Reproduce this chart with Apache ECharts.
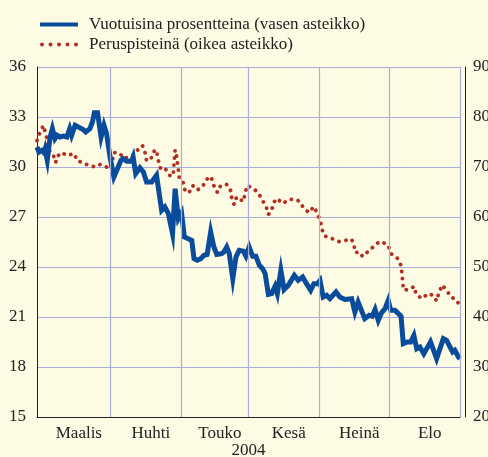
<!DOCTYPE html>
<html>
<head>
<meta charset="utf-8">
<script src="https://cdn.jsdelivr.net/npm/echarts@6/dist/echarts.min.js"></script>
<style>
  html, body { margin: 0; padding: 0; background: #fdfbe3; }
  #chart { width: 488px; height: 457px; }
</style>
</head>
<body>
<div id="chart"></div>
<script>
// months on the x axis, counted in business days
const monthNames = ['Maalis', 'Huhti', 'Touko', 'Kesä', 'Heinä', 'Elo'];
const monthDays = [23, 22, 21, 22, 22, 22];

// left scale ticks, right scale ticks
const leftTicks = [15, 36, 3];
const rightTicks = [20, 90, 10];

// Vuotuisina prosentteina (vasen asteikko): day index, value
const blueDay = [0, 0.6, 1.5, 2.2, 2.5, 3.2, 4.1, 4.8, 5.6, 6.3, 7.2, 8.2, 9.3, 10.2, 10.8, 11.9, 12.9, 14.4, 15.2, 16.5,
  17.3, 17.9, 18.9, 20.0, 20.9, 21.7, 22.8, 24.0, 24.9, 26.2, 26.9, 28.0, 29.5, 30.0, 30.8, 32.1, 33.2, 34.2, 35.8, 37.3,
  38.9, 39.9, 41.0, 42.3, 43.1, 44.1, 45.1, 46.0, 47.2, 48.3, 49.0, 50.0, 51.1, 52.1, 53.1, 54.2, 55.2, 56.1, 57.6, 58.3,
  59.2, 60.0, 61.1, 62.1, 63.1, 64.4, 65.2, 66.2, 67.3, 68.3, 69.4, 70.4, 71.2, 72.2, 73.2, 74.3, 75.0, 76.1, 77.1, 78.4,
  80.3, 81.5, 82.9, 84.1, 85.4, 86.4, 87.5, 88.3, 89.3, 90.4, 91.4, 93.3, 94.5, 96.1, 98.2, 99.2, 100.2, 102.3, 103.7, 104.6,
  105.5, 106.5, 107.5, 108.6, 109.6, 110.4, 111.7, 113.6, 114.3, 115.5, 116.6, 117.6, 118.5, 119.5, 120.7, 122.8, 124.7, 126.8, 127.8, 129.7,
  130.4, 131.5, 132];
const blueVal = [31.2, 30.9, 31.0, 30.85, 31.05, 30.4, 31.8, 32.3, 31.7, 31.9, 31.8, 31.85, 31.8, 32.3, 31.9, 32.5, 32.4, 32.25, 32.1, 32.3,
  32.7, 33.25, 33.25, 31.8, 32.5, 32.0, 30.6, 29.4, 29.8, 30.4, 30.5, 30.35, 30.35, 30.6, 29.6, 29.95, 29.7, 29.1, 29.1, 29.5,
  27.4, 27.6, 27.2, 26.0, 28.7, 26.9, 27.25, 25.8, 25.7, 25.6, 24.5, 24.4, 24.5, 24.7, 24.75, 26.1, 25.2, 24.75, 24.8, 24.9,
  25.2, 24.8, 23.3, 24.6, 25.0, 24.95, 24.65, 25.2, 24.65, 24.65, 24.1, 23.9, 23.6, 22.35, 22.4, 22.85, 22.4, 23.8, 22.65, 22.9,
  23.5, 23.2, 23.4, 23.0, 22.6, 23.0, 23.0, 23.2, 22.2, 22.3, 22.1, 22.5, 22.2, 22.05, 22.1, 21.3, 21.9, 20.9, 21.1, 21.05,
  21.45, 20.8, 21.25, 21.5, 22.0, 21.4, 21.4, 21.05, 19.4, 19.5, 19.5, 19.9, 19.1, 19.2, 18.8, 19.5, 18.5, 19.7, 19.6, 18.9,
  19.0, 18.6, 18.5];

// Peruspisteinä (oikea asteikko): day index, value
const redDay = [0, 0.9, 2.0, 2.7, 3.3, 3.7, 5.1, 5.8, 6.5, 7.5, 9.6, 11.5, 12.7, 14.3, 15.5, 16.5, 18.1, 19.7, 21.4, 22.8,
  23.5, 24.0, 25.7, 27.2, 29.7, 31.4, 32.9, 33.7, 34.2, 35.8, 36.8, 37.5, 38.0, 38.7, 40.2, 41.7, 42.5, 43.1, 43.5, 44.4,
  45.5, 46.1, 47.4, 48.6, 50.0, 51.7, 52.9, 54.3, 55.0, 56.3, 57.3, 59.2, 60.4, 60.8, 61.5, 62.3, 64.4, 64.9, 65.6, 67.1,
  68.9, 70.2, 71.5, 72.2, 73.2, 73.9, 74.8, 76.8, 78.2, 80.0, 81.8, 83.3, 84.9, 86.4, 87.6, 88.5, 89.0, 89.8, 92.0, 94.3,
  96.1, 98.1, 98.9, 99.3, 100.6, 101.6, 103.3, 104.9, 106.0, 107.5, 109.6, 110.4, 112.4, 113.6, 113.9, 114.1, 114.4, 116.1, 117.7, 118.3,
  120.1, 122.1, 123.7, 124.7, 125.4, 126.5, 127.8, 129.4, 130.8, 132];
const redVal = [75.3, 76.9, 78.3, 76.7, 75.1, 73.4, 72.4, 70.9, 72.2, 72.9, 72.3, 72.7, 71.2, 70.9, 70.5, 70.3, 70.0, 70.5, 70.1, 69.7,
  71.2, 72.9, 72.8, 71.7, 72.2, 73.4, 74.3, 72.9, 71.2, 71.9, 73.5, 72.6, 70.9, 69.4, 69.5, 68.1, 68.4, 73.4, 72.5, 67.9,
  67.2, 65.5, 64.8, 66.3, 65.4, 66.1, 67.5, 68.1, 66.5, 64.9, 66.3, 66.5, 65.3, 63.7, 62.5, 64.0, 63.1, 64.7, 66.3, 65.8,
  65.0, 63.5, 62.1, 60.5, 61.3, 62.9, 63.7, 62.7, 63.4, 63.6, 63.2, 61.7, 60.9, 62.1, 60.5, 59.1, 57.4, 56.2, 55.7, 55.1,
  55.3, 55.6, 54.5, 52.9, 53.0, 52.1, 53.1, 54.0, 54.7, 55.1, 54.3, 52.7, 51.8, 50.3, 48.7, 47.0, 45.4, 45.5, 46.1, 44.5,
  43.7, 44.7, 44.3, 43.2, 44.9, 46.4, 45.3, 43.9, 43.5, 42.2];

// month boundaries and centers (in business days)
let bounds = [0];
monthDays.forEach(function (d) { bounds.push(bounds[bounds.length - 1] + d); });
let mids = [];
for (let i = 0; i < monthNames.length; i++) mids.push((bounds[i] + bounds[i + 1]) / 2);

const serif = 'Liberation Serif';
const gridColor = '#a9aedb';
const blue = '#0a4c9c';
const red = '#b32d22';

// legend icon for the dotted series: five round dots
let dotIcon = 'path://';
for (let k = 0; k < 5; k++) {
  let cx = 2 + k * 8.5;
  dotIcon += 'M' + (cx - 2) + ' 2a2 2 0 1 0 4 0a2 2 0 1 0 -4 0Z';
}

let chart = echarts.init(document.getElementById('chart'));
let option = {
  backgroundColor: '#fdfbe3',
  animation: false,
  textStyle: { fontFamily: serif },
  grid: { left: 37, right: 28, top: 67, bottom: 40, outerBoundsMode: 'none', containLabel: false },
  legend: {
    orient: 'vertical',
    left: 35, top: 11,
    itemWidth: 38, itemHeight: 4, itemGap: 3,
    data: [
      { name: 'Vuotuisina prosentteina (vasen asteikko)', icon: 'rect', itemStyle: { color: blue } },
      { name: 'Peruspisteinä (oikea asteikko)', icon: dotIcon, itemStyle: { color: red } }
    ],
    textStyle: { fontFamily: serif, fontSize: 17, color: '#222', padding: [0, 0, 0, 6] }
  },
  xAxis: {
    type: 'value',
    min: bounds[0], max: bounds[bounds.length - 1],
    name: '2004', nameLocation: 'middle', nameGap: 25, nameMoveOverlap: false,
    nameTextStyle: { fontFamily: serif, fontSize: 17, color: '#222' },
    axisLine: { lineStyle: { color: '#222', width: 1 } },
    axisTick: { show: true, inside: true, length: 5, customValues: bounds, lineStyle: { color: '#222' } },
    axisLabel: {
      customValues: mids, margin: 8,
      fontFamily: serif, fontSize: 17, color: '#222', padding: [0, 0, 0, 10],
      formatter: function (v) { return monthNames[mids.indexOf(v)]; }
    },
    splitLine: { show: false }
  },
  yAxis: [{
    type: 'value', position: 'left',
    min: leftTicks[0], max: leftTicks[1], interval: leftTicks[2],
    axisLine: { show: true, lineStyle: { color: '#222' } },
    axisTick: { show: false },
    axisLabel: { fontFamily: serif, fontSize: 17, color: '#222', margin: 11 },
    splitLine: { show: true, lineStyle: { color: gridColor, width: 1.2 } }
  }, {
    type: 'value', position: 'right', offset: 5,
    min: rightTicks[0], max: rightTicks[1], interval: rightTicks[2],
    axisLine: { show: true, lineStyle: { color: '#222' } },
    axisTick: { show: false },
    axisLabel: { fontFamily: serif, fontSize: 17, color: '#222', margin: 8 },
    splitLine: { show: false }
  }],
  series: [{
    // vertical month gridlines
    type: 'line', z: 1, silent: true, data: [],
    markLine: {
      silent: true, symbol: 'none', label: { show: false },
      lineStyle: { color: gridColor, width: 1.2, type: 'solid' },
      data: bounds.slice(1).map(function (b) { return { xAxis: b }; })
    }
  }, {
    name: 'Peruspisteinä (oikea asteikko)',
    type: 'line', yAxisIndex: 1, z: 2,
    symbol: 'none',
    data: redDay.map(function (d, i) { return [d, redVal[i]]; }),
    itemStyle: { color: red },
    lineStyle: { color: red, width: 3.8, type: [0.1, 7], cap: 'round' }
  }, {
    name: 'Vuotuisina prosentteina (vasen asteikko)',
    type: 'line', yAxisIndex: 0, z: 3,
    symbol: 'none',
    data: blueDay.map(function (d, i) { return [d, blueVal[i]]; }),
    itemStyle: { color: blue },
    lineStyle: { color: blue, width: 5, join: 'miter' }
  }]
};
chart.setOption(option);
</script>
</body>
</html>
